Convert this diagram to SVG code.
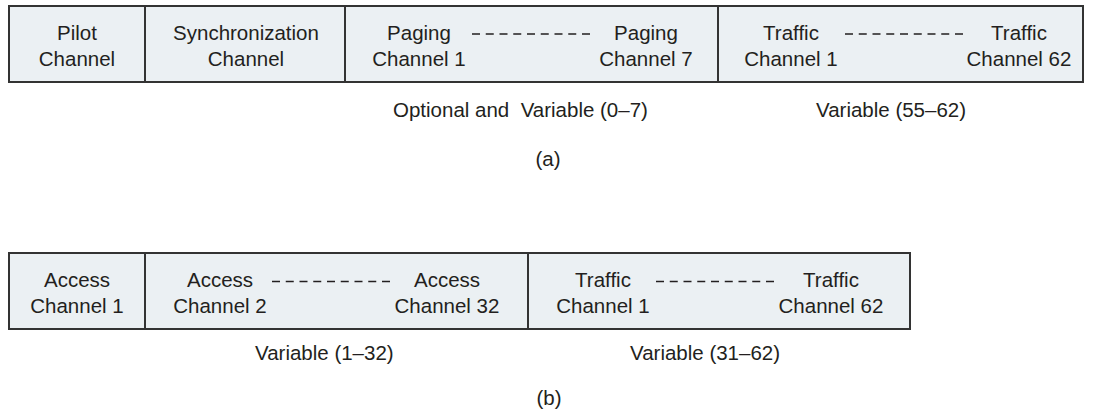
<svg xmlns="http://www.w3.org/2000/svg" width="1095" height="417" viewBox="0 0 1095 417">
<style>
.box{fill:#ebf0f3;stroke:#333;stroke-width:2}
.div{stroke:#333;stroke-width:2}
.t{font-family:"Liberation Sans",Arial,sans-serif;font-size:20.5px;fill:#231f20;text-anchor:middle}
.l{font-family:"Liberation Sans",Arial,sans-serif;font-size:20.5px;fill:#231f20}
.d{stroke:#231f20;stroke-width:1.5;stroke-dasharray:8 5.75}
</style>
<rect width="1095" height="417" fill="#fff"/>
<g id="bar-a">
<rect class="box" x="9" y="6" width="1074" height="76"/>
<line class="div" x1="145" y1="6" x2="145" y2="82"/>
<line class="div" x1="345" y1="6" x2="345" y2="82"/>
<line class="div" x1="718" y1="6" x2="718" y2="82"/>
</g>
<g id="pilot"><text class="t" x="77" y="39.5">Pilot</text><text class="t" x="77" y="66">Channel</text></g>
<g id="sync"><text class="t" x="246" y="39.5">Synchronization</text><text class="t" x="246" y="66">Channel</text></g>
<g id="paging1"><text class="t" x="419" y="39.5">Paging</text><text class="t" x="419" y="66">Channel 1</text></g>
<g id="paging7"><text class="t" x="646" y="39.5">Paging</text><text class="t" x="646" y="66">Channel 7</text></g>
<g id="trafficA1"><text class="t" x="791" y="39.5">Traffic</text><text class="t" x="791" y="66">Channel 1</text></g>
<g id="trafficA62"><text class="t" x="1019" y="39.5">Traffic</text><text class="t" x="1019" y="66">Channel 62</text></g>
<g id="bar-b">
<rect class="box" x="9" y="253" width="901" height="76"/>
<line class="div" x1="145" y1="253" x2="145" y2="329"/>
<line class="div" x1="528" y1="253" x2="528" y2="329"/>
</g>
<g id="access1"><text class="t" x="77" y="287">Access</text><text class="t" x="77" y="312.5">Channel 1</text></g>
<g id="access2"><text class="t" x="220" y="287">Access</text><text class="t" x="220" y="312.5">Channel 2</text></g>
<g id="access32"><text class="t" x="447" y="287">Access</text><text class="t" x="447" y="312.5">Channel 32</text></g>
<g id="trafficB1"><text class="t" x="603" y="287">Traffic</text><text class="t" x="603" y="312.5">Channel 1</text></g>
<g id="trafficB62"><text class="t" x="831" y="287">Traffic</text><text class="t" x="831" y="312.5">Channel 62</text></g>
<g id="connectors">
<line class="d" x1="472" y1="34" x2="590" y2="34"/>
<line class="d" x1="845" y1="34" x2="963" y2="34"/>
<line class="d" x1="272" y1="281.5" x2="392" y2="281.5"/>
<line class="d" x1="656" y1="281.5" x2="775" y2="281.5"/>
</g>
<g id="labels">
<text class="l" x="393" y="117" xml:space="preserve">Optional and  Variable (0–7)</text>
<text class="l" x="816" y="117">Variable (55–62)</text>
<text class="l" x="548" y="166" text-anchor="middle">(a)</text>
<text class="l" x="255" y="360">Variable (1–32)</text>
<text class="l" x="630" y="360">Variable (31–62)</text>
<text class="l" x="549" y="405" text-anchor="middle">(b)</text>
</g>
</svg>
